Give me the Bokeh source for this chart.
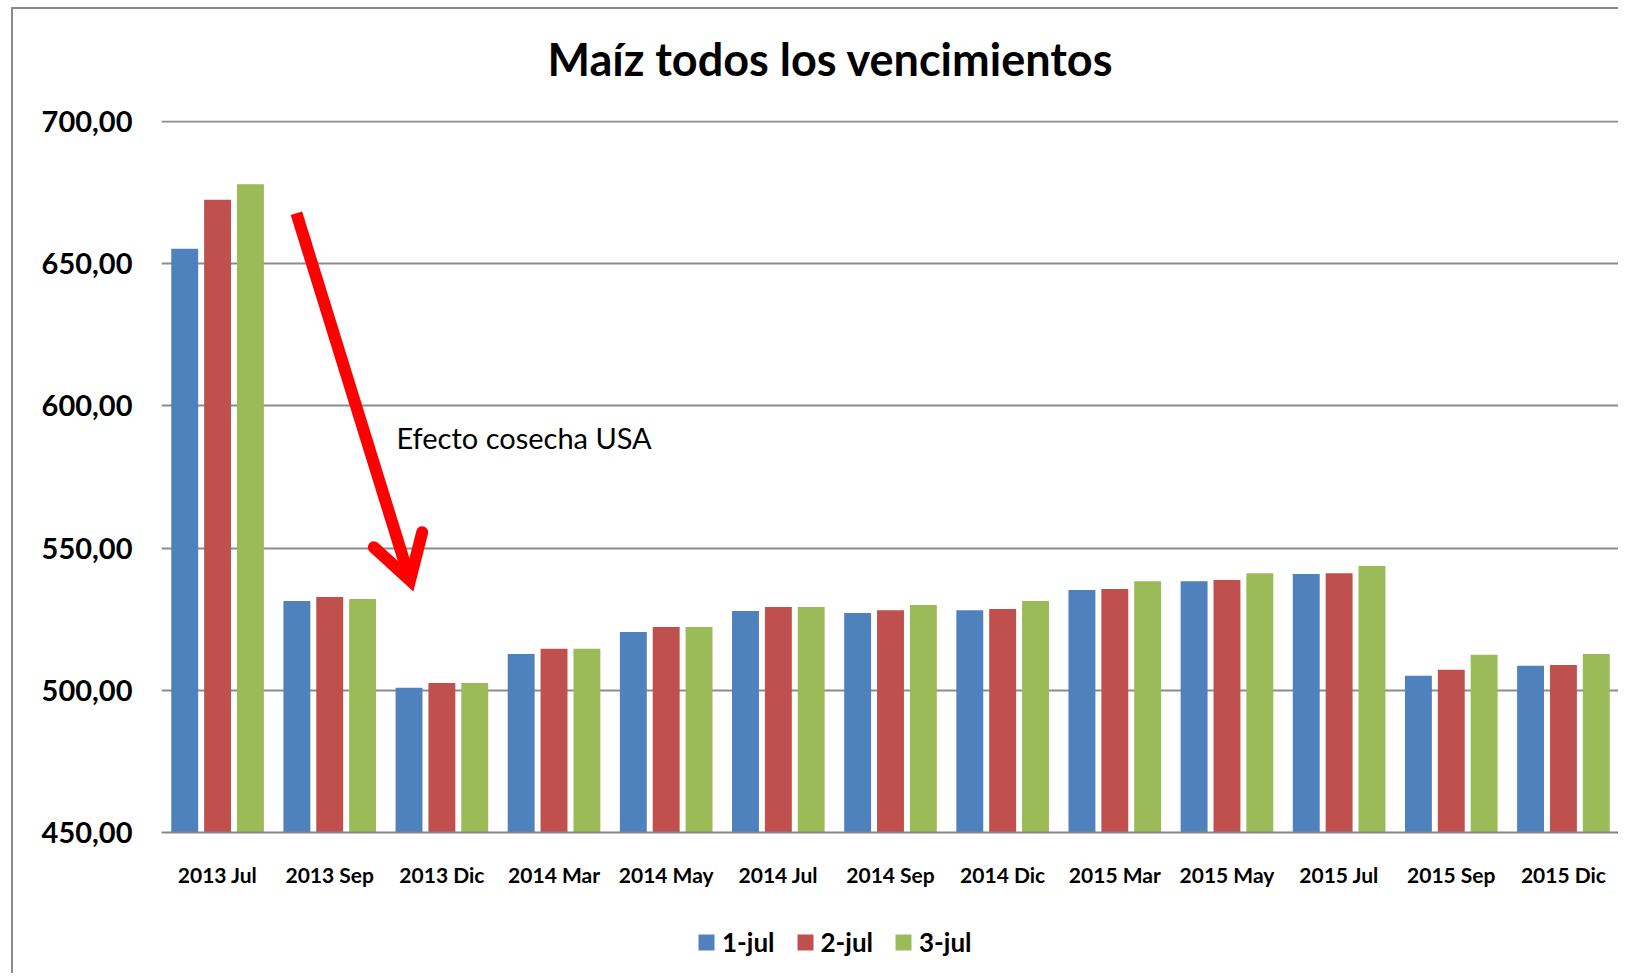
from bokeh.plotting import figure
from bokeh.layouts import column
from bokeh.models import (ColumnDataSource, FactorRange, Range1d, FixedTicker,
                          Legend, LegendItem, Label)
from bokeh.transform import dodge
from bokeh.embed import file_html
from bokeh.resources import INLINE

# ---------------- data ----------------
categories = ["2013 Jul", "2013 Sep", "2013 Dic", "2014 Mar", "2014 May", "2014 Jul",
              "2014 Sep", "2014 Dic", "2015 Mar", "2015 May", "2015 Jul", "2015 Sep",
              "2015 Dic"]
series_names = ["1-jul", "2-jul", "3-jul"]
jul1 = [655.3, 531.4, 500.9, 512.8, 520.5, 527.9, 527.2, 528.2, 535.3, 538.4, 540.9, 505.1, 508.6]
jul2 = [672.5, 532.8, 502.6, 514.6, 522.3, 529.3, 528.2, 528.6, 535.6, 538.8, 541.2, 507.2, 508.9]
jul3 = [678.0, 532.1, 502.6, 514.6, 522.3, 529.3, 530.0, 531.4, 538.4, 541.2, 543.7, 512.5, 512.8]
y_ticks = [450, 500, 550, 600, 650, 700]
y_tick_labels = ["450,00", "500,00", "550,00", "600,00", "650,00", "700,00"]
title_text = "Maíz todos los vencimientos"
note_text = "Efecto cosecha USA"

# ---------------- style ----------------
colors = ["#4F81BD", "#C0504D", "#9BBB59"]
FONT = "Lato"
Y_MIN, Y_MAX = 450, 700.4
BAR_W = 0.24
DODGE = 0.293
BORDER = "2px solid #8a8a8a"
W = 1607

src = ColumnDataSource(dict(cat=categories, s1=jul1, s2=jul2, s3=jul3))
xr = FactorRange(factors=categories, range_padding=0)

# ---------------- title strip ----------------
pt = figure(width=W, height=91, output_backend="svg", toolbar_location=None,
            x_range=xr, y_range=Range1d(0, 1), x_axis_type=None, y_axis_type=None,
            min_border_left=0, min_border_right=0, min_border_top=0, min_border_bottom=0,
            styles={"border-left": BORDER, "border-top": BORDER,
                    "margin-left": "11px", "margin-top": "7px"})
pt.outline_line_color = None
pt.border_fill_color = "white"
pt.title.visible = False
pt.add_layout(Label(x=5.965, y=0.454, text=title_text, text_font=FONT,
                    text_font_style="bold", text_font_size="45px", text_align="center",
                    text_baseline="alphabetic", text_color="black"))

# ---------------- main chart ----------------
p = figure(width=W, height=800, output_backend="svg", toolbar_location=None,
           x_range=xr, y_range=Range1d(Y_MIN, Y_MAX),
           min_border_left=148, min_border_right=1, min_border_top=22,
           min_border_bottom=66,
           styles={"border-left": BORDER, "margin-left": "11px"})
p.outline_line_color = None
p.background_fill_color = "white"
p.border_fill_color = "white"
p.title.visible = False

renderers = []
for key, off, col in zip(["s1", "s2", "s3"], [-DODGE, 0, DODGE], colors):
    r = p.vbar(x=dodge("cat", off, range=xr), top=key, bottom=Y_MIN,
               width=BAR_W, source=src, fill_color=col, line_color=None)
    renderers.append(r)

p.yaxis.ticker = FixedTicker(ticks=y_ticks)
p.yaxis.major_label_overrides = {t: l for t, l in zip(y_ticks, y_tick_labels)}
p.yaxis.axis_line_color = None
p.yaxis.major_tick_line_color = None
p.yaxis.major_tick_out = 0
p.yaxis.minor_tick_line_color = None
p.yaxis.minor_tick_out = 0
p.yaxis.major_label_standoff = 29
p.yaxis.major_label_text_font = FONT
p.yaxis.major_label_text_font_style = "bold"
p.yaxis.major_label_text_font_size = "29px"
p.yaxis.major_label_text_color = "black"

p.xaxis.axis_line_color = "#868686"
p.xaxis.axis_line_width = 2
p.xaxis.major_tick_line_color = None
p.xaxis.major_tick_out = 0
p.xaxis.minor_tick_line_color = None
p.xaxis.major_label_standoff = 29
p.xaxis.major_label_text_font = FONT
p.xaxis.major_label_text_font_style = "bold"
p.xaxis.major_label_text_font_size = "21px"
p.xaxis.major_label_text_color = "black"

p.xgrid.grid_line_color = None
p.ygrid.ticker = FixedTicker(ticks=y_ticks)
p.ygrid.grid_line_color = "#8c8c8c"
p.ygrid.grid_line_width = 2

# annotation text
p.add_layout(Label(x=2.095, y=588.9, text=note_text, text_font=FONT,
                   text_font_size="29px", text_align="left",
                   text_baseline="alphabetic", text_color="black"))

# red arrow (annotation)
shaft_x = [1.203, 2.2158]
shaft_y = [667.8, 538.7]
head_x = [1.893, 2.2158, 2.3246]
head_y = [550.3, 538.7, 555.6]
p.line(shaft_x, shaft_y, line_color="#FF0000", line_width=12, line_cap="butt")
p.line(head_x, head_y, line_color="#FF0000", line_width=12, line_cap="round",
       line_join="miter")

# ---------------- legend strip ----------------
pl = figure(width=W, height=75, output_backend="svg", toolbar_location=None,
            x_range=xr, y_range=Range1d(0, 1),
            x_axis_type=None, y_axis_type=None,
            min_border_left=0, min_border_right=0, min_border_top=0, min_border_bottom=0,
            styles={"border-left": BORDER, "margin-left": "11px"})
pl.outline_line_color = None
pl.background_fill_color = "white"
pl.border_fill_color = "white"
pl.title.visible = False
leg_renderers = [pl.vbar(x="cat", top=key, bottom=Y_MIN, width=BAR_W, source=src,
                         fill_color=c, line_color=None, visible=False)
                 for key, c in zip(["s1", "s2", "s3"], colors)]
legend = Legend(items=[LegendItem(label=n, renderers=[r])
                       for n, r in zip(series_names, leg_renderers)],
                orientation="horizontal", location=(535, 15),
                glyph_width=20, glyph_height=20, label_standoff=6, spacing=20,
                padding=0, margin=0, border_line_color=None, background_fill_alpha=0,
                label_text_font=FONT, label_text_font_style="bold",
                label_text_font_size="26px", label_text_color="black")
pl.add_layout(legend, "center")

layout = column(pt, p, pl, spacing=0)
open("out.html", "w").write(file_html(layout, INLINE))
